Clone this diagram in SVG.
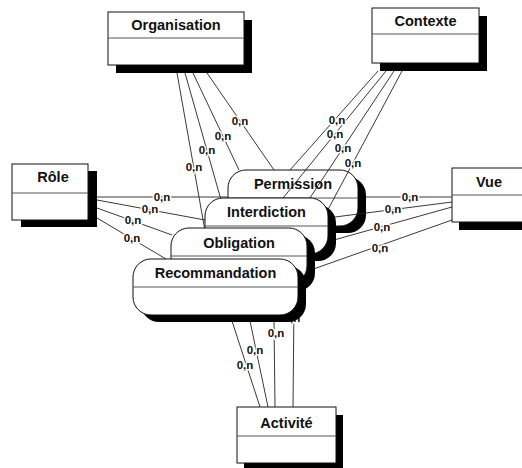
<svg xmlns="http://www.w3.org/2000/svg" width="522" height="468" viewBox="0 0 522 468">
  <style>
    .shadow { fill: #000; }
    .box { fill: #fff; stroke: #111; stroke-width: 1; }
    .div { stroke: #555; stroke-width: 1; }
    .title { font-family: "Liberation Sans", Arial, sans-serif; font-weight: bold; font-size: 14.5px; fill: #111; text-anchor: middle; }
    .link { stroke: #222; stroke-width: 0.9; fill: none; }
    .card { font-family: "Liberation Sans", Arial, sans-serif; font-weight: bold; font-size: 11.5px; fill: #111; text-anchor: middle; stroke: #fff; stroke-width: 3; paint-order: stroke; stroke-linejoin: round; }
  </style>
  <rect width="522" height="468" fill="#fff"/>

  <!-- relationship: Permission (rearmost) -->
  <g id="permission">
    <rect class="shadow" x="236" y="177" width="130" height="56" rx="18"/>
    <rect class="box" x="228" y="170" width="130" height="56" rx="18"/>
    <line class="div" x1="228" y1="198" x2="358" y2="198"/>
    <text class="title" x="293" y="189">Permission</text>
  </g>

  <!-- links between entities and relationships -->
  <g id="connectors">
    <!-- Organisation -->
    <line class="link" x1="177" y1="73" x2="210" y2="259"/>
    <line class="link" x1="185" y1="73" x2="229" y2="228"/>
    <line class="link" x1="193" y1="73" x2="239" y2="170"/>
    <line class="link" x1="207" y1="73" x2="274" y2="170"/>
    <!-- Contexte -->
    <line class="link" x1="378" y1="71" x2="290" y2="170"/>
    <line class="link" x1="386" y1="71" x2="283" y2="198"/>
    <line class="link" x1="394" y1="71" x2="290" y2="228"/>
    <line class="link" x1="402" y1="71" x2="300" y2="262"/>
    <!-- Rôle -->
    <line class="link" x1="97" y1="197" x2="228" y2="197"/>
    <line class="link" x1="97" y1="200" x2="205" y2="220"/>
    <line class="link" x1="97" y1="208" x2="172" y2="235"/>
    <line class="link" x1="97" y1="218" x2="166" y2="259"/>
    <!-- Vue -->
    <line class="link" x1="452" y1="197" x2="366" y2="197"/>
    <line class="link" x1="452" y1="202" x2="335" y2="217"/>
    <line class="link" x1="452" y1="207" x2="316" y2="245"/>
    <line class="link" x1="452" y1="220" x2="305" y2="272"/>
    <!-- Activité -->
    <line class="link" x1="260" y1="407" x2="232" y2="321"/>
    <line class="link" x1="268" y1="407" x2="250" y2="321"/>
    <line class="link" x1="275" y1="407" x2="274" y2="321"/>
    <line class="link" x1="293" y1="407" x2="294" y2="300"/>

    <!-- cardinalities -->
    <text class="card" x="240" y="125">0,n</text>
    <text class="card" x="223" y="140">0,n</text>
    <text class="card" x="207" y="154">0,n</text>
    <text class="card" x="194" y="171">0,n</text>

    <text class="card" x="337" y="124">0,n</text>
    <text class="card" x="335" y="138">0,n</text>
    <text class="card" x="343" y="152">0,n</text>
    <text class="card" x="353" y="167">0,n</text>

    <text class="card" x="162" y="201">0,n</text>
    <text class="card" x="150" y="213">0,n</text>
    <text class="card" x="133" y="224">0,n</text>
    <text class="card" x="132" y="242">0,n</text>

    <text class="card" x="410" y="201">0,n</text>
    <text class="card" x="393" y="213">0,n</text>
    <text class="card" x="382" y="231">0,n</text>
    <text class="card" x="380" y="252">0,n</text>

    <text class="card" x="245" y="369">0,n</text>
    <text class="card" x="255" y="354">0,n</text>
    <text class="card" x="276" y="337">0,n</text>
    <text class="card" x="292" y="322">0,n</text>
  </g>

  <!-- relationships, back to front -->
  <g id="interdiction">
    <rect class="shadow" x="213" y="205" width="123" height="56" rx="18"/>
    <rect class="box" x="205" y="198" width="123" height="56" rx="18"/>
    <line class="div" x1="205" y1="226" x2="328" y2="226"/>
    <text class="title" x="266.5" y="217">Interdiction</text>
  </g>

  <g id="obligation">
    <rect class="shadow" x="179" y="235" width="136" height="56" rx="18"/>
    <rect class="box" x="171" y="228" width="136" height="56" rx="18"/>
    <line class="div" x1="171" y1="256" x2="307" y2="256"/>
    <text class="title" x="239" y="248">Obligation</text>
  </g>

  <g id="recommandation">
    <rect class="shadow" x="141" y="266" width="165" height="56" rx="18"/>
    <rect class="box" x="133" y="259" width="165" height="56" rx="18"/>
    <line class="div" x1="133" y1="287" x2="298" y2="287"/>
    <text class="title" x="215.5" y="278">Recommandation</text>
  </g>

  <!-- entities -->
  <g id="organisation">
    <rect class="shadow" x="116" y="20" width="136" height="53"/>
    <rect class="box" x="108" y="12" width="136" height="53"/>
    <line class="div" x1="108" y1="38" x2="244" y2="38"/>
    <text class="title" x="176" y="30">Organisation</text>
  </g>

  <g id="contexte">
    <rect class="shadow" x="380" y="16" width="107" height="55"/>
    <rect class="box" x="372" y="8" width="107" height="55"/>
    <line class="div" x1="372" y1="34" x2="479" y2="34"/>
    <text class="title" x="425.5" y="26">Contexte</text>
  </g>

  <g id="role">
    <rect class="shadow" x="21" y="171" width="76" height="56"/>
    <rect class="box" x="12" y="164" width="76" height="56"/>
    <line class="div" x1="12" y1="193" x2="88" y2="193"/>
    <text class="title" x="53" y="182">Rôle</text>
  </g>

  <g id="vue">
    <rect class="shadow" x="459" y="176" width="74" height="54"/>
    <rect class="box" x="452" y="168" width="74" height="54"/>
    <line class="div" x1="452" y1="195" x2="526" y2="195"/>
    <text class="title" x="489" y="187">Vue</text>
  </g>

  <g id="activite">
    <rect class="shadow" x="244" y="415" width="99" height="56"/>
    <rect class="box" x="237" y="407" width="99" height="56"/>
    <line class="div" x1="237" y1="436" x2="336" y2="436"/>
    <text class="title" x="286.5" y="428">Activité</text>
  </g>
</svg>
